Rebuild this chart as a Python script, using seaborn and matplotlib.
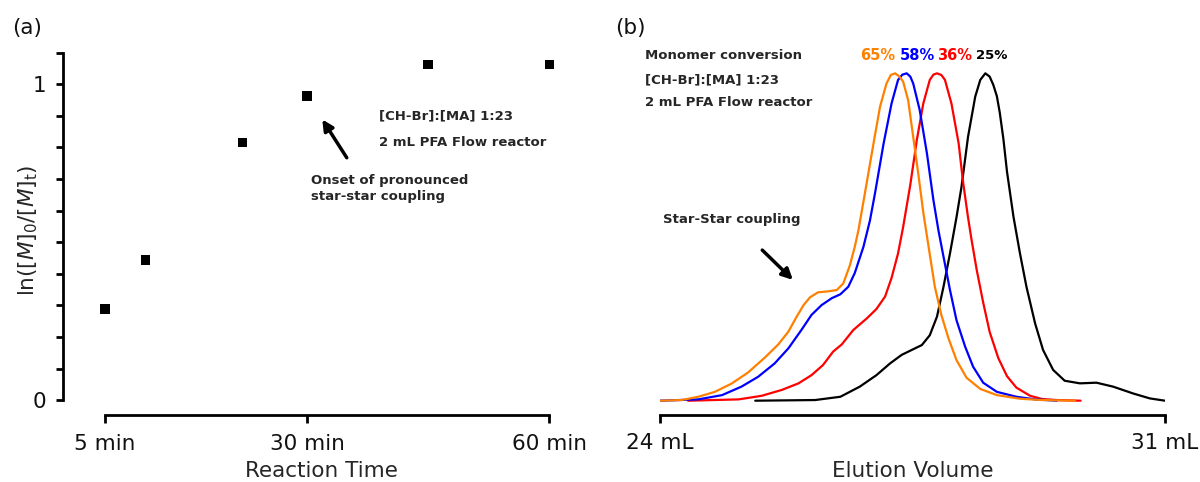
import pandas as pd
import numpy as np
import matplotlib.pyplot as plt
import seaborn as sns
from matplotlib.ticker import MultipleLocator

sns.set_theme(style="white")
plt.rcParams['font.family'] = ['DejaVu Sans']
plt.rcParams['mathtext.fontset'] = 'dejavusans'

# (a) kinetics: reaction time vs ln([M]0/[M]t)
time_min = [5, 10, 22, 30, 45, 60]
ln_ratio = [0.288, 0.443, 0.816, 0.962, 1.063, 1.063]
time_ticks = [5, 30, 60]
time_labels = ['5 min', '30 min', '60 min']

# (b) GPC traces, normalised detector signal vs elution volume (mL)
orange_vol = [24.00, 24.30, 24.53, 24.76, 24.99, 25.22, 25.46, 25.64, 25.78, 25.89, 25.99, 26.08,
              26.19, 26.33, 26.45, 26.54, 26.63, 26.70, 26.75, 26.84, 26.96, 27.05, 27.14, 27.20,
              27.26, 27.32, 27.37, 27.44, 27.51, 27.58, 27.65, 27.72, 27.81, 27.90, 28.00, 28.11,
              28.25, 28.44, 28.67, 28.99, 29.30, 29.75]
orange_sig = [0.0, 0.002, 0.012, 0.027, 0.052, 0.086, 0.133, 0.172, 0.211, 0.255, 0.292, 0.316,
              0.331, 0.334, 0.338, 0.358, 0.412, 0.47, 0.52, 0.633, 0.786, 0.898, 0.969, 0.995,
              1.0, 0.99, 0.975, 0.918, 0.806, 0.694, 0.575, 0.475, 0.348, 0.262, 0.19, 0.124,
              0.07, 0.036, 0.017, 0.006, 0.002, 0.0]

blue_vol = [24.00, 24.53, 24.86, 25.13, 25.36, 25.59, 25.78, 25.96, 26.10, 26.24, 26.38, 26.50,
            26.61, 26.70, 26.82, 26.91, 26.98, 27.10, 27.21, 27.30, 27.36, 27.42, 27.47, 27.51,
            27.60, 27.70, 27.79, 27.86, 27.93, 28.02, 28.11, 28.23, 28.34, 28.48, 28.67, 28.94,
            29.20, 29.50]
blue_sig = [0.0, 0.004, 0.017, 0.043, 0.073, 0.114, 0.16, 0.216, 0.262, 0.292, 0.313, 0.325,
            0.348, 0.39, 0.47, 0.55, 0.633, 0.786, 0.908, 0.98, 0.996, 1.0, 0.99, 0.969,
            0.888, 0.756, 0.613, 0.52, 0.44, 0.338, 0.246, 0.165, 0.104, 0.055, 0.027, 0.012,
            0.004, 0.0]

red_vol = [24.39, 25.09, 25.41, 25.69, 25.92, 26.10, 26.26, 26.40, 26.52, 26.68, 26.87, 27.00,
           27.12, 27.21, 27.30, 27.37, 27.47, 27.56, 27.65, 27.74, 27.79, 27.84, 27.90, 27.95,
           28.04, 28.14, 28.20, 28.27, 28.32, 28.39, 28.48, 28.57, 28.69, 28.81, 28.94, 29.13,
           29.30, 29.50, 29.83]
red_sig = [0.0, 0.004, 0.015, 0.033, 0.053, 0.078, 0.109, 0.15, 0.172, 0.216, 0.252, 0.28,
           0.318, 0.375, 0.45, 0.53, 0.66, 0.796, 0.908, 0.98, 0.996, 1.0, 0.995, 0.98,
           0.908, 0.786, 0.67, 0.56, 0.49, 0.40, 0.30, 0.21, 0.13, 0.075, 0.04, 0.015,
           0.005, 0.002, 0.0]

black_vol = [25.32, 26.15, 26.50, 26.77, 27.00, 27.19, 27.35, 27.49, 27.63, 27.74, 27.84, 27.93,
             28.02, 28.11, 28.18, 28.27, 28.37, 28.44, 28.51, 28.57, 28.62, 28.67, 28.71, 28.76,
             28.81, 28.90, 28.99, 29.08, 29.20, 29.31, 29.45, 29.61, 29.82, 30.05, 30.28, 30.56,
             30.79, 31.00]
black_sig = [0.0, 0.002, 0.012, 0.043, 0.078, 0.114, 0.14, 0.155, 0.17, 0.2, 0.257, 0.348,
             0.45, 0.56, 0.654, 0.806, 0.929, 0.98, 1.0, 0.99, 0.965, 0.93, 0.88, 0.80,
             0.70, 0.562, 0.45, 0.348, 0.236, 0.155, 0.094, 0.061, 0.053, 0.055, 0.043, 0.022,
             0.007, 0.0]

samples = ['25%', '36%', '58%', '65%']
colors = {'25%': 'black', '36%': '#FF0000', '58%': '#0000FF', '65%': '#FF8000'}

gpc = pd.concat([
    pd.DataFrame({'volume': black_vol, 'signal': black_sig, 'sample': '25%'}),
    pd.DataFrame({'volume': red_vol, 'signal': red_sig, 'sample': '36%'}),
    pd.DataFrame({'volume': blue_vol, 'signal': blue_sig, 'sample': '58%'}),
    pd.DataFrame({'volume': orange_vol, 'signal': orange_sig, 'sample': '65%'}),
], ignore_index=True)

fig = plt.figure(figsize=(12, 4.82), dpi=100)
ax1 = fig.add_axes([0.0525, 0.139, 0.431, 0.753])
ax2 = fig.add_axes([0.55, 0.139, 0.4208, 0.753])

# ---- panel (a)
sns.scatterplot(x=time_min, y=ln_ratio, marker='s', s=48, color='black',
                edgecolor='none', ax=ax1)
ax1.set_xlim(-0.2, 63.8)
ax1.set_ylim(-0.047, 1.102)
for side in ['top', 'right']:
    ax1.spines[side].set_visible(False)
ax1.spines['left'].set_bounds(0, 1.1)
ax1.spines['bottom'].set_bounds(5, 60)
for side in ['left', 'bottom']:
    ax1.spines[side].set_linewidth(2)
    ax1.spines[side].set_color('black')
ax1.set_xticks(time_ticks, time_labels)
ax1.set_yticks([0, 1], ['0', '1'])
ax1.yaxis.set_minor_locator(MultipleLocator(0.1))
ax1.tick_params(axis='both', which='both', direction='out', length=5, width=2,
                color='black', labelsize=15.5, labelcolor='#111111')
ax1.tick_params(axis='y', which='both', left=True, pad=7)
ax1.tick_params(axis='x', bottom=True, length=6, pad=8)
ax1.set_xlabel('Reaction Time', fontsize=15.5, labelpad=5)
ax1.set_ylabel(r'ln([$M$]$_\mathregular{0}$/[$M$]$_\mathregular{t}$)', fontsize=15.5)
ax1.yaxis.set_label_coords(-0.045, 0.51)

ax1.text(38.9, 0.899, '[CH-Br]:[MA] 1:23', fontsize=9.5, fontweight='bold', va='center')
ax1.text(38.9, 0.816, '2 mL PFA Flow reactor', fontsize=9.5, fontweight='bold', va='center')
ax1.text(30.5, 0.669, 'Onset of pronounced\nstar-star coupling', fontsize=9.5,
         fontweight='bold', va='center', linespacing=1.3)
ax1.annotate('', xy=(31.7, 0.896), xytext=(35.1, 0.76),
             arrowprops=dict(arrowstyle='-|>', lw=2.5, color='black', mutation_scale=16))

# ---- panel (b)
sns.lineplot(data=gpc, x='volume', y='signal', hue='sample', hue_order=samples,
             palette=colors, estimator=None, sort=False, lw=1.6, legend=False, ax=ax2)
ax2.set_xlim(24, 31)
ax2.set_ylim(-0.0437, 1.065)
for side in ['top', 'right', 'left']:
    ax2.spines[side].set_visible(False)
ax2.spines['bottom'].set_linewidth(2)
ax2.spines['bottom'].set_color('black')
ax2.set_xticks([24, 31], ['24 mL', '31 mL'])
ax2.set_yticks([])
ax2.tick_params(axis='x', bottom=True, direction='out', length=6, width=2,
                color='black', labelsize=15.5, labelcolor='#111111', pad=7)
ax2.set_xlabel('Elution Volume', fontsize=15.5, labelpad=6)
ax2.set_ylabel('')

ax2.text(23.79, 1.056, 'Monomer conversion', fontsize=9.5, fontweight='bold', va='center')
ax2.text(23.79, 0.98, '[CH-Br]:[MA] 1:23', fontsize=9.5, fontweight='bold', va='center')
ax2.text(23.79, 0.912, '2 mL PFA Flow reactor', fontsize=9.5, fontweight='bold', va='center')
pct_x = {'65%': 26.77, '58%': 27.33, '36%': 27.84, '25%': 28.38}
for s in ['65%', '58%', '36%', '25%']:
    ax2.text(pct_x[s], 1.056, s, fontsize=9.5 if s == '25%' else 10.5,
             fontweight='bold', color=colors[s], va='center')
ax2.text(24.04, 0.552, 'Star-Star coupling', fontsize=9.5, fontweight='bold', va='center')
ax2.annotate('', xy=(25.87, 0.363), xytext=(25.39, 0.466),
             arrowprops=dict(arrowstyle='-|>', lw=2.5, color='black', mutation_scale=16))

fig.text(0.01, 0.942, '(a)', fontsize=15.5, va='center', color='#111111')
fig.text(0.5125, 0.942, '(b)', fontsize=15.5, va='center', color='#111111')

plt.savefig('out.png', dpi=100)
plt.close()
